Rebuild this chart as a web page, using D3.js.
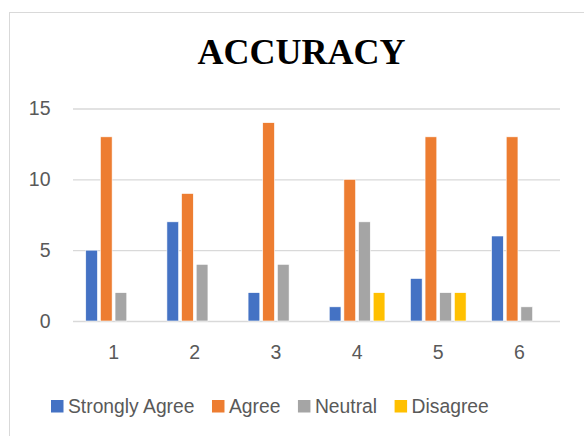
<!DOCTYPE html>
<html>
<head>
<meta charset="utf-8">
<script src="https://cdn.jsdelivr.net/npm/d3@7"></script>
<style>
  html, body { margin: 0; padding: 0; background: #fff; }
  svg { display: block; }
</style>
</head>
<body>
<svg id="chart" width="584" height="436"></svg>
<script>
const title = "ACCURACY";
const categories = ["1", "2", "3", "4", "5", "6"];
const seriesNames = ["Strongly Agree", "Agree", "Neutral", "Disagree"];
const stronglyAgree = [5, 7, 2, 1, 3, 6];
const agree = [13, 9, 14, 10, 13, 13];
const neutral = [2, 4, 4, 7, 2, 1];
const disagree = [0, 0, 0, 2, 2, 0];
const yTicks = [0, 5, 10, 15];
const colors = ["#4472C4", "#ED7D31", "#A5A5A5", "#FFC000"];

(function () {
const seriesValues = [stronglyAgree, agree, neutral, disagree];

const svg = d3.select("#chart");

// chart frame
svg.append("rect")
  .attr("x", 9.5).attr("y", 12.5)
  .attr("width", 600).attr("height", 440)
  .attr("fill", "#fff")
  .attr("stroke", "#d9d9d9").attr("stroke-width", 1);

const plotLeft = 73, plotRight = 560, plotTop = 108.5, plotBottom = 321;

const x0 = d3.scaleBand().domain(categories).range([plotLeft, plotRight])
  .paddingInner(0.314).paddingOuter(0.157);
const x1 = d3.scaleBand().domain(seriesNames).range([0, x0.bandwidth()])
  .paddingInner(0.2).paddingOuter(0);
const y = d3.scaleLinear().domain([0, 15]).range([plotBottom, plotTop]);

// title
svg.append("text")
  .attr("x", 301.5).attr("y", 64)
  .attr("text-anchor", "middle")
  .attr("font-family", "'Liberation Serif', 'Times New Roman', serif")
  .attr("font-weight", "bold")
  .attr("font-size", 36)
  .attr("fill", "#000")
  .text(title);

// y axis with gridlines
const yAxis = d3.axisLeft(y).tickValues(yTicks).tickSize(-(plotRight - plotLeft)).tickPadding(22.5).tickFormat(d3.format("d"));
const gy = svg.append("g").attr("transform", `translate(${plotLeft},0)`).call(yAxis);
gy.select(".domain").remove();
gy.selectAll(".tick line").attr("stroke", "#d9d9d9").attr("stroke-width", 1.4);
gy.selectAll(".tick text")
  .attr("font-family", "'Liberation Sans', Arial, sans-serif")
  .attr("font-size", 19.5).attr("fill", "#595959");

// bars
const groups = svg.append("g").selectAll("g")
  .data(categories)
  .join("g")
  .attr("transform", d => `translate(${x0(d)},0)`);

groups.selectAll("rect")
  .data((c, i) => seriesNames.map((s, j) => ({ s, v: seriesValues[j][i], color: colors[j] })).filter(d => d.v > 0))
  .join("rect")
  .attr("x", d => x1(d.s))
  .attr("y", d => y(d.v))
  .attr("width", x1.bandwidth())
  .attr("height", d => y(0) - y(d.v))
  .attr("fill", d => d.color)
  .attr("stroke", "#fff").attr("stroke-width", 0.6);

// x axis labels
const xAxis = d3.axisBottom(x0).tickSize(0).tickPadding(24);
const gx = svg.append("g").attr("transform", `translate(0,${plotBottom})`).call(xAxis);
gx.select(".domain").remove();
gx.selectAll(".tick text")
  .attr("font-family", "'Liberation Sans', Arial, sans-serif")
  .attr("font-size", 19.5).attr("fill", "#595959");

// legend
const legend = svg.append("g");
let lx = 51;
seriesNames.forEach((name, i) => {
  legend.append("rect")
    .attr("x", lx).attr("y", 400)
    .attr("width", 12.5).attr("height", 12.5)
    .attr("fill", colors[i]);
  const t = legend.append("text")
    .attr("x", lx + 17).attr("y", 413)
    .attr("font-family", "'Liberation Sans', Arial, sans-serif")
    .attr("font-size", 19.3).attr("fill", "#595959")
    .text(name);
  lx = lx + 17 + t.node().getComputedTextLength() + 17.5;
});
})();
</script>
</body>
</html>
